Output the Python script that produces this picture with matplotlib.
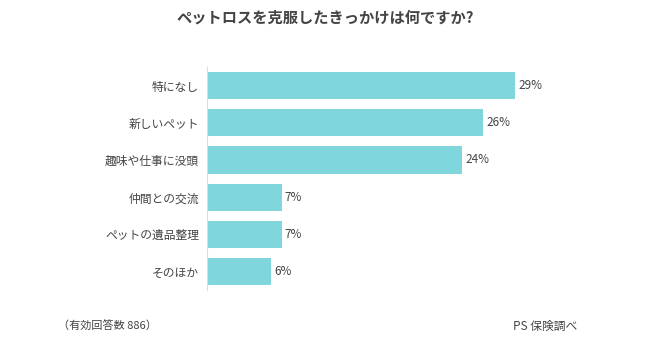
import matplotlib
matplotlib.use("Agg")
import matplotlib.pyplot as plt

plt.rcParams['font.family'] = ['Noto Sans CJK JP', 'DejaVu Sans']

# 回答データ（上から順）
categories = ["特になし", "新しいペット", "趣味や仕事に没頭", "仲間との交流", "ペットの遺品整理", "そのほか"]
percents = [29, 26, 24, 7, 7, 6]

title = "ペットロスを克服したきっかけは何ですか?"
note_left = "（有効回答数 886）"
note_right = "PS 保険調べ"

bar_color = "#7fd6dc"
text_color = "#444444"

fig = plt.figure(figsize=(6.5, 3.47), dpi=100)
ax = fig.add_axes([0.319, 0.164, 0.653, 0.643])

ypos = list(range(len(categories)))
ax.barh(ypos, percents, height=0.73, color=bar_color, zorder=2)
for y, v in zip(ypos, percents):
    ax.text(v + 0.3, y, f"{v}%", va="center", ha="left", fontsize=8.5, color=text_color)

ax.set_xlim(0, 40)
ax.set_ylim(len(categories) - 0.5, -0.5)
ax.set_yticks(ypos)
ax.set_yticklabels(categories, fontsize=8.5, color=text_color)
ax.tick_params(axis="y", length=0, pad=6)
ax.set_xticks([])
for side in ["top", "right", "bottom"]:
    ax.spines[side].set_visible(False)
ax.spines["left"].set_color("#dddddd")
ax.spines["left"].set_linewidth(0.8)

fig.text(0.5, 0.948, title, ha="center", va="center", fontsize=11, fontweight="bold", color=text_color)
fig.text(0.09, 0.058, note_left, ha="left", va="center", fontsize=8, color=text_color)
fig.text(0.888, 0.058, note_right, ha="right", va="center", fontsize=8.5, color=text_color)

fig.savefig("out.png", dpi=100)
